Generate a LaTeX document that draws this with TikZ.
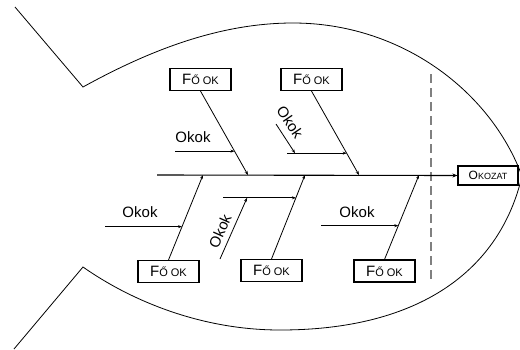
\documentclass[tikz,border=0pt]{standalone}
\usepackage{fontspec}
\setmainfont{Liberation Sans}
\usetikzlibrary{arrows.meta, calc}

% kisebb betuk a kiskapitalis hatashoz
\newcommand{\kis}[1]{{\fontsize{11}{11}\selectfont #1}}

\begin{document}
\begin{tikzpicture}[x=1pt, y=-1pt,
    okbox/.style={draw, line width=1.1pt, minimum width=61pt, minimum height=22pt, inner sep=0pt, font=\fontsize{15}{15}\selectfont},
    bone/.style={line width=0.8pt, -{Stealth[length=4pt, width=3pt]}},
    okoktext/.style={font=\fontsize{15}{15}\selectfont, inner sep=0pt}]
        \useasboundingbox (0,0) rectangle (520,349);

        % hal korvonala
        \draw[line width=0.8pt] (15,7) -- (83,87)
            .. controls (150,50) and (220,23) .. (293,23)
            .. controls (400,23) and (490,90) .. (522,176)
            .. controls (500,270) and (420,330) .. (280,330)
            .. controls (200,330) and (130,300) .. (83,267) -- (14,349);

        % szaggatott fej vonal
        \coordinate (d1) at (431,74);
        \coordinate (d2) at (431,281);
        \draw[gray, line width=1.3pt, dash pattern=on 9pt off 5pt] (d1) -- (d2);

        % okozat es gerinc
        \node[draw, line width=1.1pt, minimum width=60pt, minimum height=19pt, inner sep=0pt, font=\fontsize{12}{12}\selectfont] (okozat) at (488,175.5) {O\kis{\fontsize{9}{9}\selectfont KOZAT}};
        \coordinate (farok) at (157,175);
        \draw[line width=1.1pt, -{Stealth[length=5pt, width=4pt]}] (farok) -- (okozat.west);

        % fo okok
        \node[okbox] (fok1) at (200.5,79.5) {F\kis{Ő OK}};
        \node[okbox] (fok2) at (311.5,79.5) {F\kis{Ő OK}};
        \node[okbox] (fok3) at (168.5,271.5) {F\kis{Ő OK}};
        \node[okbox] (fok4) at (271.5,270.5) {F\kis{Ő OK}};
        \node[okbox] (fok5) at (384.5,271) {F\kis{Ő OK}};

        \coordinate (t1) at (248,175);
        \coordinate (t2) at (359,175);
        \coordinate (t3) at (203,175);
        \coordinate (t4) at (305,175);
        \coordinate (t5) at (419,175);
        \draw[bone] (fok1.south) -- (t1);
        \draw[bone] (fok2.south) -- (t2);
        \draw[bone] (fok3.north) -- (t3);
        \draw[bone] (fok4.north) -- (t4);
        \draw[bone] (fok5.north) -- (t5);

        % okok a fo okokon
        \coordinate (a1) at ($(fok1.south)!0.716!(t1)$);
        \coordinate (a2) at ($(fok2.south)!0.74!(t2)$);
        \coordinate (a3) at ($(fok3.north)!0.392!(t3)$);
        \coordinate (a4) at ($(fok4.north)!0.728!(t4)$);
        \coordinate (a5) at ($(fok5.north)!0.4!(t5)$);
        \coordinate (s1) at (175,0);
        \coordinate (s2) at (287,0);
        \coordinate (s3) at (105,0);
        \coordinate (s4) at (223,0);
        \coordinate (s5) at (321,0);
        \draw[bone] (s1 |- a1) -- (a1);
        \draw[bone] (s2 |- a2) -- (a2);
        \draw[bone] (s3 |- a3) -- (a3);
        \draw[bone] (s4 |- a4) -- (a4);
        \draw[bone] (s5 |- a5) -- (a5);

        % mellekagak
        \coordinate (b2) at ($(s2 |- a2)!0.134!(a2)$);
        \coordinate (b4) at ($(s4 |- a4)!0.33!(a4)$);
        \coordinate (c2) at (276,124);
        \coordinate (c4) at (220,259);
        \draw[bone] (c2) -- (b2);
        \draw[bone] (c4) -- (b4);

        \node[okoktext] (ok1) at (193,137) {Okok};
        \node[okoktext, rotate=-56] (ok2) at (290,122) {Okok};
        \node[okoktext] (ok3) at (140,212) {Okok};
        \node[okoktext, rotate=66] (ok4) at (220,231) {Okok};
        \node[okoktext] (ok5) at (357,212) {Okok};
    \end{tikzpicture}
\end{document}
